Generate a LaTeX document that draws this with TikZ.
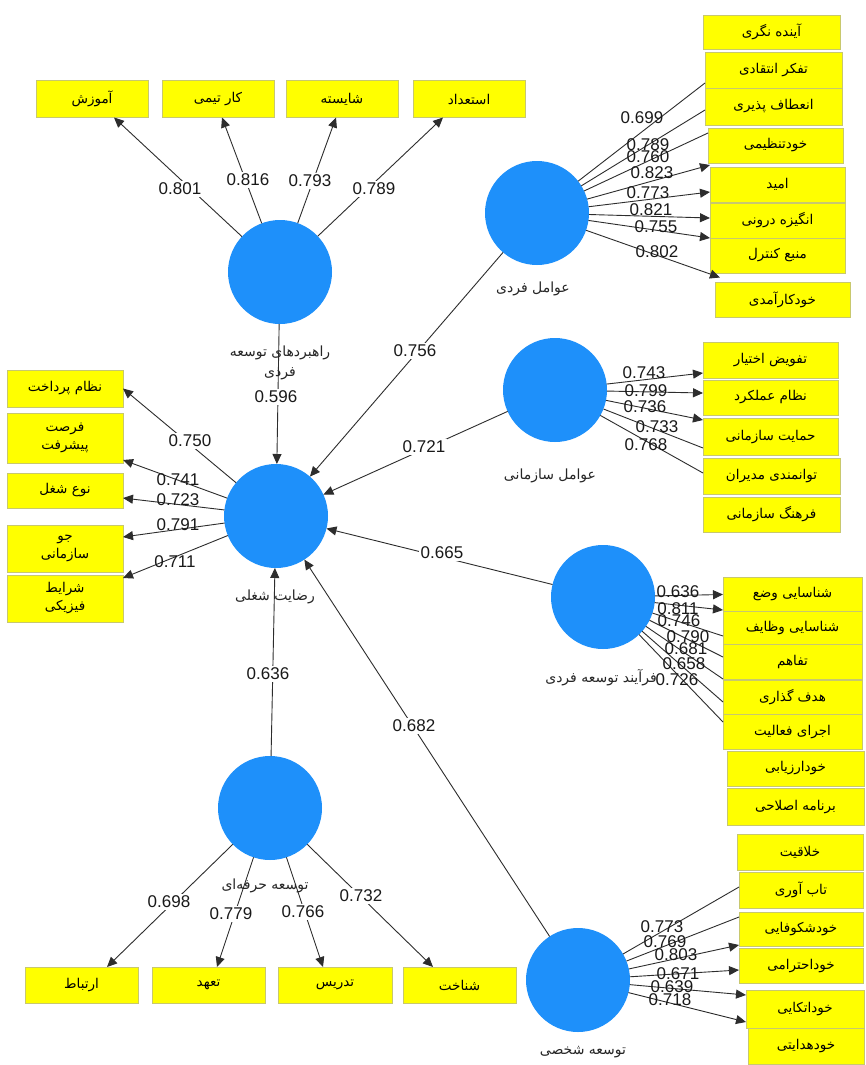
\documentclass[tikz,border=0pt]{standalone}
\usepackage{fontspec}
\setmainfont{Liberation Sans}
\newfontfamily\persianfont[Script=Arabic]{DejaVu Sans}
\TeXXeTstate=1
\usetikzlibrary{arrows.meta}
\definecolor{lvblue}{RGB}{30,144,250}
\definecolor{boxyellow}{RGB}{255,255,0}
\definecolor{boxedge}{RGB}{200,200,110}
\definecolor{linegray}{RGB}{45,45,45}
\newcommand{\pfa}[1]{{\persianfont\beginR #1\endR}}
\begin{document}
\begin{tikzpicture}[x=1pt,y=-1pt,
  lv/.style={circle, fill=lvblue, minimum size=104pt, inner sep=0pt, outer sep=0pt},
  ind/.style={draw=boxedge, fill=boxyellow, line width=0.8pt, inner sep=0pt, outer sep=0pt, align=center, font=\fontsize{13.5}{18}\selectfont},
  lvlab/.style={font=\fontsize{14}{20}\selectfont, text=black!85, align=center, inner sep=0pt},
  num/.style={font=\fontsize{17}{18}\selectfont, inner sep=1pt, text=black!90},
  numw/.style={num, fill=white, inner sep=2pt},
  con/.style={draw=linegray, line width=0.9pt},
  arr/.style={con, -{Triangle[length=10pt,width=9pt]}}]
\useasboundingbox[fill=white] (0,0) rectangle (865,1065);

% latent variables
\node[lv] (RD) at (280,272) {};
\node[lv] (AF) at (537,213) {};
\node[lv] (AS) at (555,390) {};
\node[lv] (RS) at (276,516) {};
\node[lv] (FT) at (603,597) {};
\node[lv] (TH) at (270,808) {};
\node[lv] (TS) at (578,980) {};

% top row
\node[ind, minimum width=112pt, minimum height=37pt] (t1) at (92,99) {\pfa{آموزش}};
\node[ind, minimum width=112pt, minimum height=37pt] (t2) at (218,99) {\pfa{کار تیمی}};
\node[ind, minimum width=112pt, minimum height=37pt] (t3) at (342,99) {\pfa{شایسته}};
\node[ind, minimum width=112pt, minimum height=37pt] (t4) at (469,99) {\pfa{استعداد}};

% AF column
\node[ind, minimum width=137pt, minimum height=34pt] (a1) at (771.5,32) {\pfa{آینده نگری}};
\node[ind, minimum width=137pt, minimum height=36pt] (a2) at (773.5,70) {\pfa{تفکر انتقادی}};
\node[ind, minimum width=137pt, minimum height=37pt] (a3) at (773.5,106.5) {\pfa{انعطاف پذیری}};
\node[ind, minimum width=135pt, minimum height=35pt] (a4) at (775.5,145.5) {\pfa{خودتنظیمی}};
\node[ind, minimum width=135pt, minimum height=35pt] (a5) at (777.5,184.5) {\pfa{امید}};
\node[ind, minimum width=135pt, minimum height=35pt] (a6) at (777.5,220.5) {\pfa{انگیزه درونی}};
\node[ind, minimum width=135pt, minimum height=35pt] (a7) at (777.5,255.5) {\pfa{منبع کنترل}};
\node[ind, minimum width=135pt, minimum height=35pt] (a8) at (782.5,299.5) {\pfa{خودکارآمدی}};

% AS column
\node[ind, minimum width=135pt, minimum height=36pt] (s1) at (770.5,360) {\pfa{تفویض اختیار}};
\node[ind, minimum width=135pt, minimum height=35pt] (s2) at (770.5,397.5) {\pfa{نظام عملکرد}};
\node[ind, minimum width=135pt, minimum height=37pt] (s3) at (770.5,437) {\pfa{حمایت سازمانی}};
\node[ind, minimum width=137pt, minimum height=36pt] (s4) at (771.5,476) {\pfa{توانمندی مدیران}};
\node[ind, minimum width=137pt, minimum height=35pt] (s5) at (771.5,514.5) {\pfa{فرهنگ سازمانی}};

% left column
\node[ind, minimum width=116pt, minimum height=37pt] (l1) at (65,388.5) {\pfa{نظام پرداخت}};
\node[ind, minimum width=116pt, minimum height=50pt] (l2) at (65,438) {\pfa{فرصت}\\\pfa{پیشرفت}};
\node[ind, minimum width=116pt, minimum height=35pt] (l3) at (65,490.5) {\pfa{نوع شغل}};
\node[ind, minimum width=116pt, minimum height=47pt] (l4) at (65,548.5) {\pfa{جو}\\\pfa{سازمانی}};
\node[ind, minimum width=116pt, minimum height=47pt] (l5) at (65,598.5) {\pfa{شرایط}\\\pfa{فیزیکی}};

% FT column
\node[ind, minimum width=139pt, minimum height=35pt] (f1) at (792.5,594.5) {\pfa{شناسایی وضع}};
\node[ind, minimum width=139pt, minimum height=33pt] (f2) at (792.5,628) {\pfa{شناسایی وظایف}};
\node[ind, minimum width=139pt, minimum height=35pt] (f3) at (792.5,662) {\pfa{تفاهم}};
\node[ind, minimum width=139pt, minimum height=34pt] (f4) at (792.5,697) {\pfa{هدف گذاری}};
\node[ind, minimum width=139pt, minimum height=35pt] (f5) at (792.5,732) {\pfa{اجرای فعالیت}};
\node[ind, minimum width=137pt, minimum height=35pt] (f6) at (795.5,768.5) {\pfa{خودارزیابی}};
\node[ind, minimum width=137pt, minimum height=37pt] (f7) at (795.5,807) {\pfa{برنامه اصلاحی}};

% TS column
\node[ind, minimum width=126pt, minimum height=36pt] (p1) at (800,852) {\pfa{خلاقیت}};
\node[ind, minimum width=124pt, minimum height=36pt] (p2) at (801,890) {\pfa{تاب آوری}};
\node[ind, minimum width=124pt, minimum height=34pt] (p3) at (801,929) {\pfa{خودشکوفایی}};
\node[ind, minimum width=124pt, minimum height=35pt] (p4) at (801,966) {\pfa{خوداحترامی}};
\node[ind, minimum width=118pt, minimum height=38pt] (p5) at (805,1009) {\pfa{خوداتکایی}};
\node[ind, minimum width=116pt, minimum height=36pt] (p6) at (806,1046) {\pfa{خودهدایتی}};

% bottom row
\node[ind, minimum width=113pt, minimum height=36pt] (b1) at (81.5,985) {\pfa{ارتباط}};
\node[ind, minimum width=113pt, minimum height=36pt] (b2) at (208.5,985) {\pfa{تعهد}};
\node[ind, minimum width=114pt, minimum height=36pt] (b3) at (335,985) {\pfa{تدریس}};
\node[ind, minimum width=113pt, minimum height=36pt] (b4) at (459.5,985) {\pfa{شناخت}};

% ---- connectors ----
% RD outer loadings
\draw[arr] (RD) -- ([xshift=22pt]t1.south);
\draw[arr] (RD) -- ([xshift=4pt]t2.south);
\draw[arr] (RD) -- ([xshift=-6pt]t3.south);
\draw[arr] (RD) -- ([xshift=-26pt]t4.south);

% structural paths
\draw[arr] (RD) -- (RS);
\draw[arr] (AF) -- (RS);
\draw[arr] (AS) -- (RS);
\draw[arr] (FT) -- (RS);
\draw[arr] (TS) -- (RS);
\draw[arr] (TH) -- (RS);

% AF loadings
\draw[con] (AF) -- ([yshift=-13pt]a2.west);
\draw[con] (AF) -- ([yshift=-3.5pt]a3.west);
\draw[con] (AF) -- ([yshift=12.5pt]a4.west);
\draw[arr] (AF) -- ([yshift=19.5pt]a5.west);
\draw[arr] (AF) -- ([yshift=-7.5pt]a5.west);
\draw[arr] (AF) -- ([yshift=2.5pt]a6.west);
\draw[arr] (AF) -- ([yshift=17.5pt]a7.west);
\draw[arr] (AF) -- ([xshift=5pt,yshift=4.5pt]a8.north west);

% AS loadings
\draw[arr] (AS) -- ([yshift=-13pt]s1.west);
\draw[arr] (AS) -- ([yshift=4.5pt]s2.west);
\draw[arr] (AS) -- ([yshift=17pt]s3.west);
\draw[con] (AS) -- ([yshift=-11pt]s3.west);
\draw[con] (AS) -- ([yshift=3pt]s4.west);

% RS loadings
\draw[arr] (RS) -- (l1.east);
\draw[arr] (RS) -- ([yshift=-22pt]l2.east);
\draw[arr] (RS) -- ([yshift=-7.5pt]l3.east);
\draw[arr] (RS) -- ([yshift=11.5pt]l4.east);
\draw[arr] (RS) -- ([yshift=20.5pt]l5.east);

% FT loadings
\draw[arr] (FT) -- (f1.west);
\draw[arr] (FT) -- ([yshift=-15.5pt]f1.west);
\draw[con] (FT) -- ([yshift=-8pt]f2.west);
\draw[con] (FT) -- ([yshift=5pt]f3.west);
\draw[con] (FT) -- ([yshift=18pt]f4.west);
\draw[con] (FT) -- ([yshift=-5pt]f4.west);
\draw[con] (FT) -- ([yshift=10pt]f5.west);

% TS loadings
\draw[con] (TS) -- ([yshift=3pt]p2.west);
\draw[con] (TS) -- ([yshift=12pt]p3.west);
\draw[arr] (TS) -- ([yshift=21pt]p4.west);
\draw[arr] (TS) -- ([yshift=-4pt]p4.west);
\draw[arr] (TS) -- ([yshift=14pt]p5.west);
\draw[arr] (TS) -- ([yshift=-13pt]p5.west);

% TH loadings
\draw[arr] (TH) -- ([xshift=25.5pt]b1.north);
\draw[arr] (TH) -- ([xshift=8.5pt]b2.north);
\draw[arr] (TH) -- ([xshift=-12pt]b3.north);
\draw[arr] (TH) -- ([xshift=-26.5pt]b4.north);

% ---- latent variable names ----
\node[lvlab] (RDl) at (280,363) {\pfa{راهبردهای توسعه}\\\pfa{فردی}};
\node[lvlab] (AFl) at (533,289) {\pfa{عوامل فردی}};
\node[lvlab] (ASl) at (550,476) {\pfa{عوامل سازمانی}};
\node[lvlab] (RSl) at (275,597) {\pfa{رضایت شغلی}};
\node[lvlab] (FTl) at (601,678) {\pfa{فرآیند توسعه فردی}};
\node[lvlab] (THl) at (265,886) {\pfa{توسعه حرفه‌ای}};
\node[lvlab] (TSl) at (583,1052) {\pfa{توسعه شخصی}};

% ---- coefficients ----
\node[numw] (n1) at (180,189) {0.801};
\node[numw] (n2) at (248,180) {0.816};
\node[numw] (n3) at (310,181) {0.793};
\node[numw] (n4) at (374,189) {0.789};
\node[numw] (n5) at (276,397) {0.596};
\node[numw] (n6) at (415,351) {0.756};
\node[numw] (n7) at (424,447) {0.721};
\node[numw] (n8) at (442,553) {0.665};
\node[numw] (n9) at (414,726) {0.682};
\node[numw] (n10) at (268,674) {0.636};
\node[numw] (n11) at (169,902) {0.698};
\node[numw] (n12) at (231,914) {0.779};
\node[numw] (n13) at (303,912) {0.766};
\node[numw] (n14) at (361,896) {0.732};
\node[numw] (n15) at (190,441) {0.750};
\node[num] (n16) at (178,480) {0.741};
\node[num] (n17) at (178,500) {0.723};
\node[num] (n18) at (178,525) {0.791};
\node[num] (n19) at (175,562) {0.711};
\node[num] (n20) at (642,118) {0.699};
\node[num] (n21) at (648,145) {0.789};
\node[num] (n22) at (648,157) {0.760};
\node[num] (n23) at (652,173) {0.823};
\node[num] (n24) at (648,193) {0.773};
\node[num] (n25) at (651,210) {0.821};
\node[num] (n26) at (656,227) {0.755};
\node[num] (n27) at (657,252) {0.802};
\node[num] (n28) at (644,373) {0.743};
\node[num] (n29) at (646,391) {0.799};
\node[num] (n30) at (645,407) {0.736};
\node[num] (n31) at (657,427) {0.733};
\node[num] (n32) at (646,445) {0.768};
\node[num] (n33) at (678,592) {0.636};
\node[num] (n34) at (678,609) {0.811};
\node[num] (n35) at (679,621) {0.746};
\node[num] (n36) at (688,637) {0.790};
\node[num] (n37) at (686,649) {0.681};
\node[num] (n38) at (684,664) {0.658};
\node[num] (n39) at (677,680) {0.726};
\node[num] (n40) at (662,927) {0.773};
\node[num] (n41) at (665,942) {0.769};
\node[num] (n42) at (676,955) {0.803};
\node[num] (n43) at (678,974) {0.671};
\node[num] (n44) at (672,987) {0.639};
\node[num] (n45) at (670,1000) {0.718};
\end{tikzpicture}
\end{document}
